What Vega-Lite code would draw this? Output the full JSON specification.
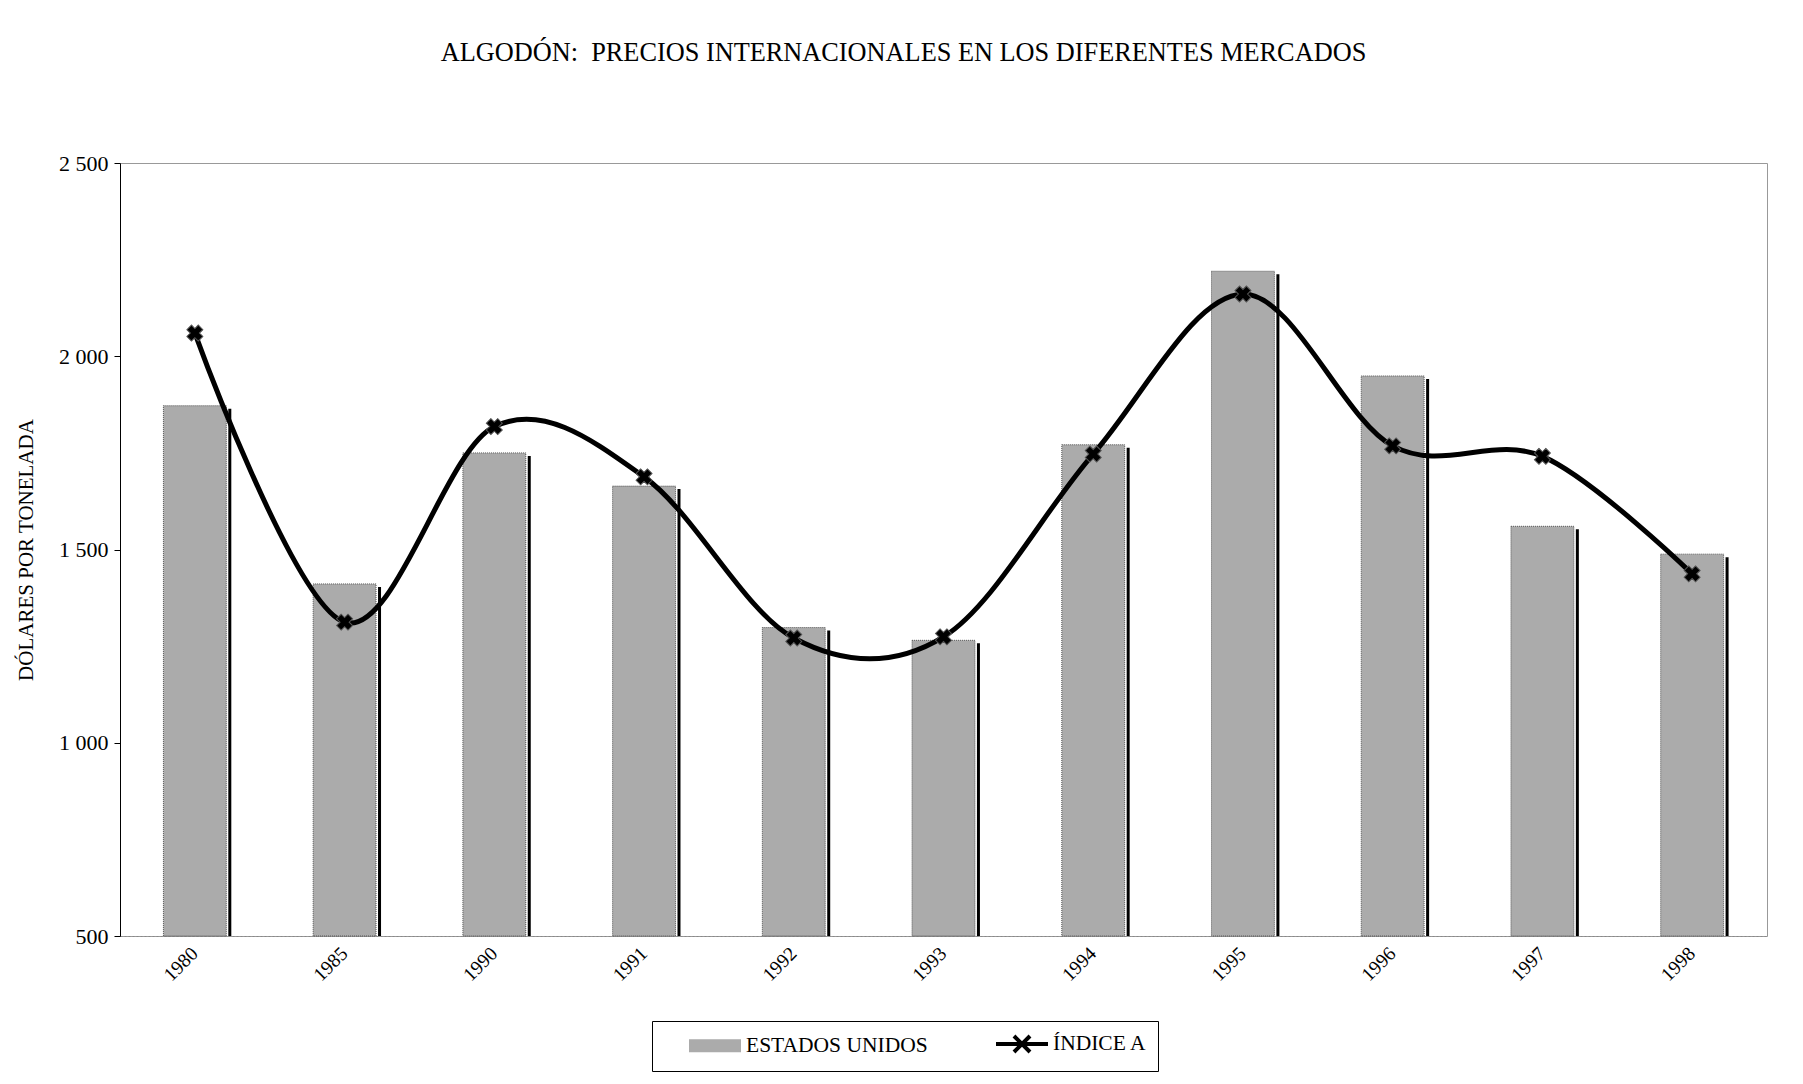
{
  "$schema": "https://vega.github.io/schema/vega-lite/v6.json",
  "width": 1647,
  "height": 773,
  "autosize": "none",
  "padding": {"left": 120, "top": 163, "right": 36, "bottom": 148},
  "background": "white",
  "title": {
    "text": "ALGODÓN:\u00a0 PRECIOS INTERNACIONALES EN LOS DIFERENTES MERCADOS",
    "font": "Liberation Serif", "fontSize": 26.3, "fontWeight": "normal", "color": "black",
    "anchor": "middle", "dx": -40, "offset": 86
  },
  "config": {
    "view": {"stroke": "#999", "strokeWidth": 1},
    "axisY": {
      "labelFont": "Liberation Serif", "labelFontSize": 22, "labelColor": "black",
      "tickSize": 6, "tickColor": "black", "domainColor": "black", "grid": false,
      "labelPadding": 6,
      "titleFont": "Liberation Serif", "titleFontSize": 21, "titleFontWeight": "normal",
      "titleColor": "black", "titlePadding": 22
    },
    "axisX": {
      "labelAngle": -45, "labelAlign": "right", "labelBaseline": "middle",
      "labelFont": "Liberation Serif", "labelFontSize": 19.5, "labelColor": "black",
      "ticks": false, "labelPadding": 14, "domainColor": "#888", "domainDash": [2, 2],
      "title": null, "grid": false
    }
  },
  "datasets": {
    "prices": [
      {"year": "1980", "us": 1872, "idx": 2060},
      {"year": "1985", "us": 1411, "idx": 1312},
      {"year": "1990", "us": 1750, "idx": 1818},
      {"year": "1991", "us": 1664, "idx": 1688},
      {"year": "1992", "us": 1298, "idx": 1271},
      {"year": "1993", "us": 1265, "idx": 1274},
      {"year": "1994", "us": 1771, "idx": 1747},
      {"year": "1995", "us": 2220, "idx": 2161},
      {"year": "1996", "us": 1949, "idx": 1768},
      {"year": "1997", "us": 1560, "idx": 1741},
      {"year": "1998", "us": 1488, "idx": 1437}
    ],
    "series": [
      {"serie": "ESTADOS UNIDOS"},
      {"serie": "ÍNDICE A"}
    ]
  },
  "layer": [
    {
      "data": {"name": "prices"},
      "mark": {"type": "bar", "color": "black", "xOffset": 5, "yOffset": 3, "clip": true},
      "encoding": {
        "x": {"field": "year", "type": "nominal", "scale": {"paddingInner": 0.58, "paddingOuter": 0.29}},
        "y": {"field": "us", "type": "quantitative", "title": "DÓLARES POR TONELADA",
              "scale": {"domain": [500, 2500], "nice": false, "zero": false},
              "axis": {"values": [500, 1000, 1500, 2000, 2500],
                       "labelExpr": "replace(format(datum.value, ','), ',', ' ')"}},
        "y2": {"datum": 500}
      }
    },
    {
      "data": {"name": "prices"},
      "mark": {"type": "bar", "color": "white", "xOffset": 2},
      "encoding": {
        "x": {"field": "year", "type": "nominal"},
        "y": {"field": "us", "type": "quantitative", "title": "DÓLARES POR TONELADA"},
        "y2": {"datum": 500}
      }
    },
    {
      "data": {"name": "prices"},
      "mark": {"type": "bar", "color": "#ababab", "stroke": "#555", "strokeWidth": 1, "strokeDash": [1, 1]},
      "encoding": {
        "x": {"field": "year", "type": "nominal"},
        "y": {"field": "us", "type": "quantitative", "title": "DÓLARES POR TONELADA"},
        "y2": {"datum": 500}
      }
    },
    {
      "data": {"name": "prices"},
      "mark": {"type": "line", "interpolate": "cardinal", "strokeWidth": 5, "color": "black"},
      "encoding": {
        "x": {"field": "year", "type": "nominal"},
        "y": {"field": "idx", "type": "quantitative", "title": "DÓLARES POR TONELADA"}
      }
    },
    {
      "data": {"name": "prices"},
      "mark": {"type": "point", "shape": "cross", "angle": 45, "filled": true, "color": "black",
               "size": 260, "stroke": "#555", "strokeWidth": 1, "opacity": 1},
      "encoding": {
        "x": {"field": "year", "type": "nominal"},
        "y": {"field": "idx", "type": "quantitative", "title": "DÓLARES POR TONELADA"}
      }
    },
    {
      "data": {"name": "series"},
      "mark": {"type": "point", "filled": false, "opacity": 0},
      "encoding": {
        "color": {
          "field": "serie", "type": "nominal",
          "scale": {"domain": ["ESTADOS UNIDOS", "ÍNDICE A"], "range": ["#ababab", "black"]},
          "legend": {
            "title": null, "orient": "none", "legendX": 532, "legendY": 858,
            "direction": "horizontal", "strokeColor": "black", "fillColor": "white",
            "padding": 11, "labelFont": "Liberation Serif", "labelFontSize": 21.5,
            "labelColor": "black", "symbolSize": 400, "columnPadding": 42,
            "symbolOffset": 40, "labelOffset": 19, "labelLimit": 400,
            "symbolOpacity": 1, "symbolStrokeWidth": 4
          }
        },
        "shape": {
          "field": "serie", "type": "nominal",
          "scale": {"domain": ["ESTADOS UNIDOS", "ÍNDICE A"],
                    "range": ["M-2.6,-0.45H2.6M-2.6,-0.15H2.6M-2.6,0.15H2.6M-2.6,0.45H2.6",
                              "M-2.6,0H2.6M-0.8,-0.8L0.8,0.8M-0.8,0.8L0.8,-0.8"]},
          "legend": {
            "title": null, "orient": "none", "legendX": 532, "legendY": 858,
            "direction": "horizontal", "strokeColor": "black", "fillColor": "white",
            "padding": 11, "labelFont": "Liberation Serif", "labelFontSize": 21.5,
            "labelColor": "black", "symbolSize": 400, "columnPadding": 42,
            "symbolOffset": 40, "labelOffset": 19, "labelLimit": 400,
            "symbolOpacity": 1, "symbolStrokeWidth": 4
          }
        }
      }
    }
  ]
}
